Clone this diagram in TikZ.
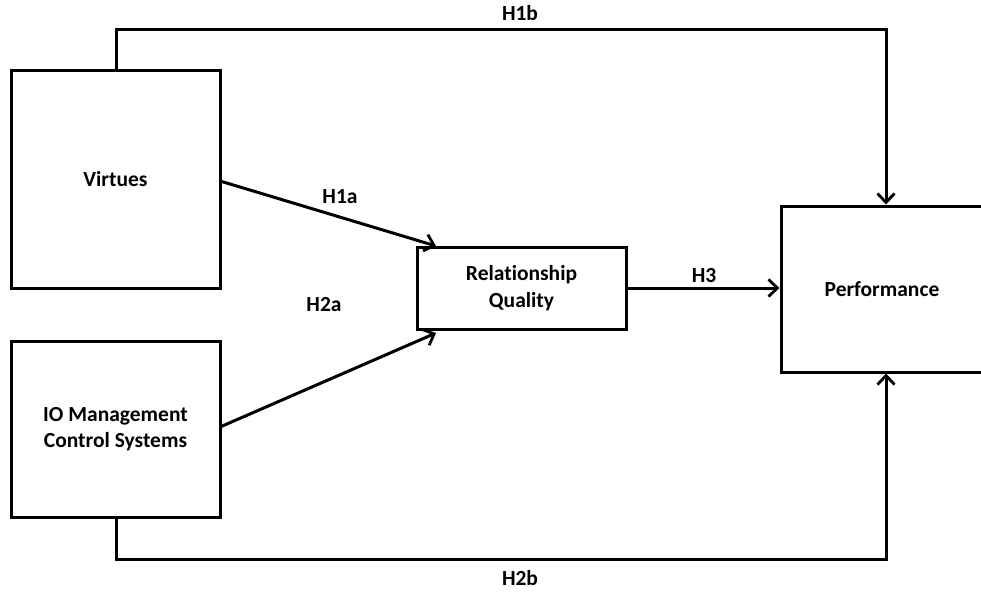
\documentclass[tikz,border=0pt]{standalone}
\usepackage{fontspec}
\setmainfont{Carlito}[Ligatures=NoCommon]
\usetikzlibrary{arrows.meta}
\begin{document}
\begin{tikzpicture}[x=1pt,y=-1pt,
  box/.style={draw=black,line width=3pt,fill=white,align=center,font=\fontsize{21.5}{26.5}\selectfont\bfseries,inner sep=0pt},
  conn/.style={draw=black,line width=3pt,line join=miter},
  arr/.style={conn,-{Straight Barb[length=9pt,width=17pt,line width=2.8pt]}},
  lbl/.style={font=\fontsize{21.5}{26}\selectfont\bfseries,inner sep=0pt}]
\useasboundingbox (0,0) rectangle (981,592);
\node[box,minimum width=209pt,minimum height=218pt] (vir) at (115.5,179) {Virtues};
\node[box,minimum width=209pt,minimum height=176pt] (io) at (115.5,429) {IO Management\\Control Systems};
\node[box,minimum width=209pt,minimum height=82pt] (rq) at (521.5,288) {Relationship\\Quality};
\node[box,minimum width=202pt,minimum height=166pt] (perf) at (882,289) {Performance};
\coordinate (tl) at (116,29);
\coordinate (tr) at (886,29);
\coordinate (bl) at (116,559);
\coordinate (br) at (886,559);
\draw[arr] (vir.north -| tl) -- (tl) -- (tr) -- (tr |- perf.north);
\draw[arr] (io.south -| bl) -- (bl) -- (br) -- (br |- perf.south);
\draw[arr] (220,181) -- (436,246);
\draw[arr] (220,427) -- (436,333);
\draw[arr] (rq.east) -- (perf.west |- rq.east);
\node[lbl] (h1b) at (520,13) {H1b};
\node[lbl] (h1a) at (340,197) {H1a};
\node[lbl] (h2a) at (324,305) {H2a};
\node[lbl] (h3) at (704,276) {H3};
\node[lbl] (h2b) at (520,578) {H2b};
\end{tikzpicture}
\end{document}
